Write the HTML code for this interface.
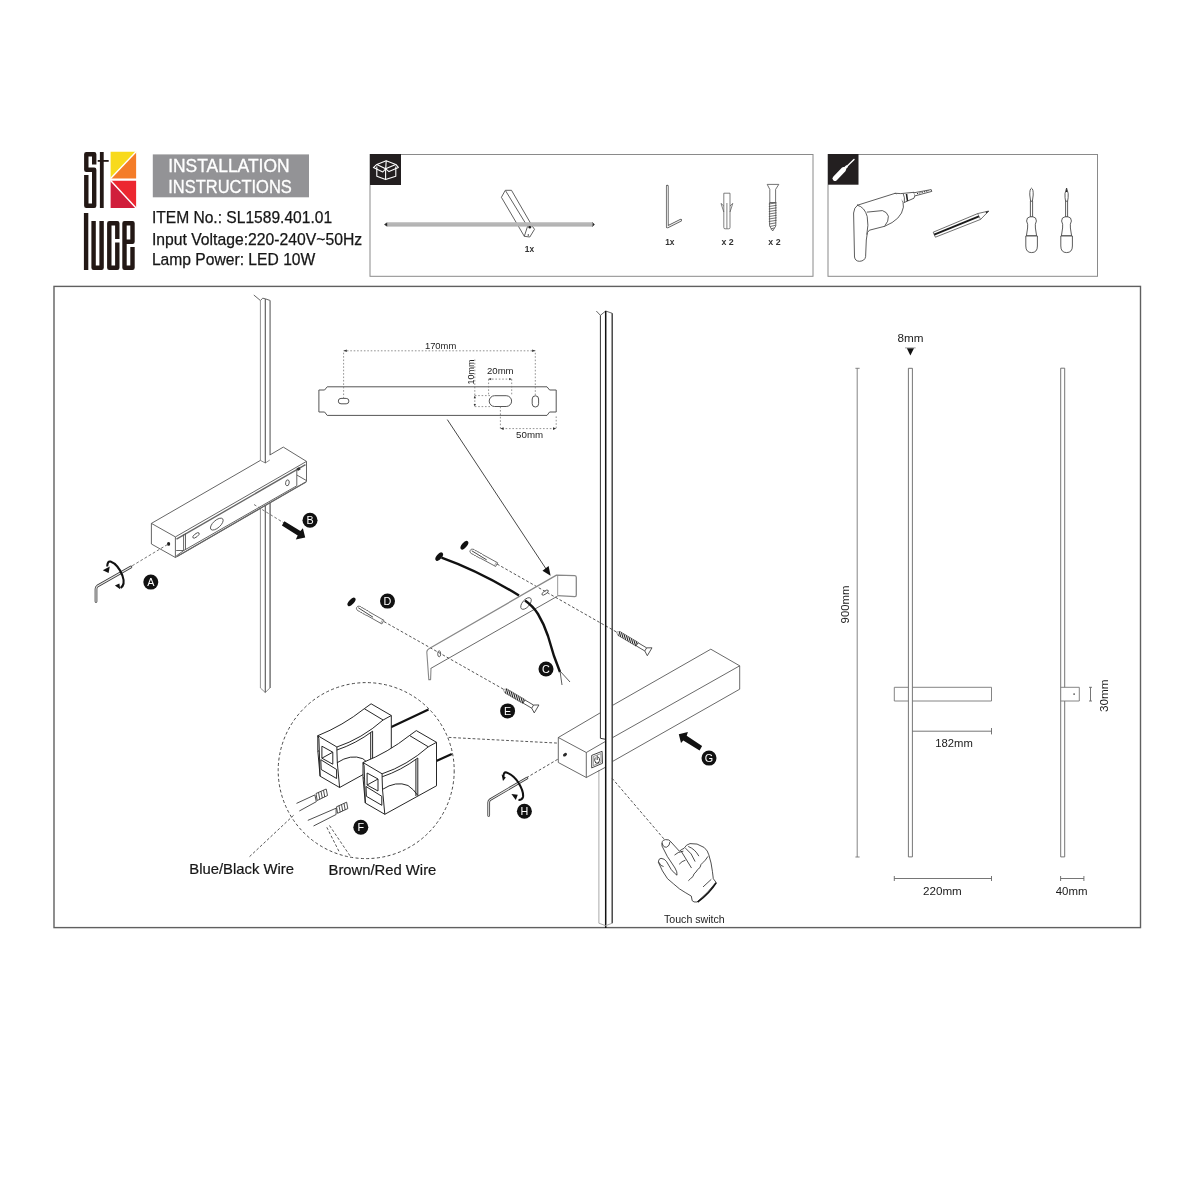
<!DOCTYPE html>
<html>
<head>
<meta charset="utf-8">
<style>
html,body{margin:0;padding:0;background:#fff;}
body{width:1200px;height:1200px;overflow:hidden;}
svg{display:block;will-change:transform;}
text{font-family:"Liberation Sans",sans-serif;}
</style>
</head>
<body>
<svg width="1200" height="1200" viewBox="0 0 1200 1200">
<rect width="1200" height="1200" fill="#fff"/>
<defs>
  <g id="screwS">
    <path d="M0,0 L3,-2.2 H24 V2.2 H3 Z" fill="#fff" stroke="#555" stroke-width="0.5"/>
    <path d="M2.6,-2.3 L3.9,2.3 M4.5,-2.3 L5.8,2.3 M6.5,-2.3 L7.8,2.3 M8.4,-2.3 L9.8,2.3 M10.4,-2.3 L11.7,2.3 M12.3,-2.3 L13.7,2.3 M14.3,-2.3 L15.6,2.3 M16.2,-2.3 L17.6,2.3 M18.2,-2.3 L19.5,2.3 M20.2,-2.3 L21.5,2.3 M22.1,-2.3 L23.4,2.3 " stroke="#1a1a1a" stroke-width="1" fill="none"/>
    <path d="M24,-1.8 H34 L38.6,-4.6 L38.6,4.6 L34,1.8 H24 Z M34,-1.8 V1.8" fill="#fff" stroke="#333" stroke-width="0.75" stroke-linejoin="round"/>
  </g>
  <g id="dowelS">
    <path d="M1.6,-2.1 Q3,-3 4.4,-2.1 Q5.8,-3 7.2,-2.1 Q8.6,-3 10,-2.1 Q11.4,-3 12.8,-2.1 H30 V2.1 H12.8 Q11.4,3 10,2.1 Q8.6,3 7.2,2.1 Q5.8,3 4.4,2.1 Q3,3 1.6,2.1 Q0,2 0,0 Q0,-2 1.6,-2.1 Z" fill="#fff" stroke="#444" stroke-width="0.7" stroke-linejoin="round"/>
    <path d="M1.5,-0.3 L19,0.6" stroke="#333" stroke-width="0.8" fill="none"/>
    <path d="M28.6,-2.1 V2.1" stroke="#666" stroke-width="0.5" fill="none"/>
  </g>
</defs>


<!-- ===== LOGO ===== -->
<g id="logo">
  <g fill="none" stroke="#231815" stroke-width="4.4" stroke-linejoin="round" stroke-linecap="butt">
    <path d="M94.2,164.5 V154.3 H86.3 V169.8 H94.2 V205.8 H86.3 V175"/>
    <path d="M86.1,213 V270"/>
    <path d="M93.6,221 V267.8 H101.6 V221"/>
    <path d="M117.3,239 V223.2 H109.3 V267.8 H117.3 V242.5"/>
    <path d="M132.5,247 V267.8 H124.5 V223.2 H132.5 V241.8 H126"/>
  </g>
  <rect x="99.9" y="152" width="3.8" height="56" fill="#231815"/>
  <rect x="97.7" y="160" width="11" height="1.8" fill="#231815"/>
  <polygon points="110.6,151.7 136.1,151.7 110.6,178.4" fill="#f8da1c"/>
  <polygon points="136.1,151.7 136.1,178.4 110.6,178.4" fill="#f47c28"/>
  <polygon points="110.6,180.8 136.1,180.8 136.1,208" fill="#ec2730"/>
  <polygon points="110.6,180.8 136.1,208 110.6,208" fill="#d01e3b"/>
  <line x1="110.6" y1="178.6" x2="136.3" y2="151.5" stroke="#fff" stroke-width="1.4"/>
  <line x1="110.6" y1="180.6" x2="136.3" y2="208.2" stroke="#fff" stroke-width="1.4"/>
</g>

<!-- ===== TITLE ===== -->
<rect x="152.8" y="154.4" width="156.2" height="42.9" fill="#939396"/>
<text x="168.2" y="172.3" font-size="19.2" fill="#fff" stroke="#fff" stroke-width="0.35" textLength="121.4" lengthAdjust="spacingAndGlyphs">INSTALLATION</text>
<text x="168.2" y="193.2" font-size="19.2" fill="#fff" stroke="#fff" stroke-width="0.35" textLength="123.6" lengthAdjust="spacingAndGlyphs">INSTRUCTIONS</text>

<g font-size="15.9" fill="#161616" stroke="#161616" stroke-width="0.25">
<text x="151.9" y="222.9" textLength="180.2" lengthAdjust="spacingAndGlyphs">ITEM No.: SL1589.401.01</text>
<text x="151.9" y="244.7" textLength="210.2" lengthAdjust="spacingAndGlyphs">Input Voltage:220-240V~50Hz</text>
<text x="151.9" y="264.8" textLength="163.4" lengthAdjust="spacingAndGlyphs">Lamp Power: LED 10W</text>
</g>

<!-- ===== HEADER BOXES ===== -->
<rect x="370" y="154.5" width="443" height="121.8" fill="none" stroke="#8a8a8a" stroke-width="1"/>
<rect x="828" y="154.5" width="269.5" height="121.8" fill="none" stroke="#8a8a8a" stroke-width="1"/>
<rect x="370" y="154" width="31" height="31" fill="#231f20"/>
<rect x="828" y="154" width="30.5" height="30.7" fill="#231f20"/>

<!-- box icon -->
<g fill="none" stroke="#fff" stroke-width="1.1" stroke-linejoin="round">
  <path d="M376.8,166.5 V176.3 L385.6,179.6 L395.8,176.3 V166.5"/>
  <path d="M385.6,168.8 V179.6"/>
  <path d="M376.8,164.4 L386.2,160.8 L395.8,164.4 L385.6,168.8 Z"/>
  <path d="M376.8,164.4 L373.4,167.6 L382.8,172 L385.6,168.8"/>
  <path d="M395.8,164.4 L398.4,167.4 L389,171.6 L385.6,168.8"/>
  <path d="M386.2,160.8 L385.7,168.6"/>
</g>
<!-- screwdriver icon -->
<g stroke="#fff" stroke-linecap="round" fill="none">
  <line x1="835" y1="178.4" x2="843.6" y2="169.6" stroke-width="5"/>
  <line x1="843" y1="170.2" x2="846.6" y2="166.6" stroke-width="2.6"/>
  <line x1="846" y1="167.2" x2="854" y2="159.6" stroke-width="1.4"/>
</g>

<!-- box1 contents -->
<g>
  <path d="M387.2,222.8 L384.6,224.5 L387.2,226.2 Z" fill="#2a2a2a" stroke="#2a2a2a" stroke-width="0.8" stroke-linejoin="round"/>
  <path d="M592.3,222.6 L594.4,224.5 L592.3,226.4 Z" fill="#2a2a2a" stroke="#2a2a2a" stroke-width="0.8" stroke-linejoin="round"/>
  <g fill="none" stroke="#444" stroke-width="0.85" stroke-linejoin="round">
    <path d="M501.4,197.3 L505.3,190.3 L511.5,190.3 L532.2,226 L534.5,229.3 L529.8,237 L524.3,236.3 Z"/>
    <path d="M505.6,190.8 L527.5,226.5 L532.2,226"/>
    <path d="M527.5,226.5 L524.3,236.3"/>
  </g>
  <rect x="387.5" y="222.3" width="205" height="4.3" fill="#b2b2b2"/>
  <line x1="387.5" y1="223.9" x2="592.5" y2="223.9" stroke="#bdbdbd" stroke-width="0.8"/>
  <circle cx="529.8" cy="227.2" r="1.3" fill="#222"/>
  <circle cx="528.3" cy="235" r="0.7" fill="#222"/>
  <text x="524.8" y="252.4" font-size="8.4" font-weight="bold" fill="#333">1x</text>
</g>
<!-- allen key -->
<g fill="none" stroke-linecap="round" stroke-linejoin="round">
  <path d="M667.3,186.2 V227 L680.7,220.2" stroke="#5a5a5a" stroke-width="2.7"/>
  <path d="M667.3,186.2 V227 L680.7,220.2" stroke="#f0f0f0" stroke-width="1.1"/>
</g>
<text x="665.2" y="244.6" font-size="8.4" font-weight="bold" fill="#333">1x</text>
<!-- anchor -->
<g fill="#fff" stroke="#555" stroke-width="0.75">
  <path d="M723.8,193.2 H730 V227.5 Q730,228.8 728.8,228.8 H725 Q723.8,228.8 723.8,227.5 Z"/>
  <path d="M723.8,206 L721,203.4 L723.8,212 M730,206 L732.8,203.4 L730,212" fill="none"/>
  <path d="M726.9,203 V228.5" fill="none"/>
</g>
<text x="721.4" y="245" font-size="8.8" font-weight="bold" fill="#333">x 2</text>
<!-- screw -->
<g fill="#fff" stroke="#444" stroke-width="0.75" stroke-linejoin="round">
  <path d="M767.2,184.4 H778.8 L775.6,189.4 V202.6 H769.8 V189.4 Z"/>
  <path d="M769.6,202.6 H775.8 V226 L772.7,231 L769.6,226 Z"/>
</g>
<g stroke="#444" stroke-width="0.75">
  <path d="M768.8,204 L776.6,202.8 M768.8,206.5 L776.6,205.3 M768.8,209 L776.6,207.8 M768.8,211.5 L776.6,210.3 M768.8,214 L776.6,212.8 M768.8,216.5 L776.6,215.3 M768.8,219 L776.6,217.8 M768.8,221.5 L776.6,220.3 M769.2,224 L776.2,222.8 M770,226.5 L775.6,225.3 M770.8,229 L774.6,227.8"/>
</g>
<text x="768.3" y="245" font-size="8.8" font-weight="bold" fill="#333">x 2</text>

<!-- box2 contents: drill -->
<g fill="#fff" stroke="#333" stroke-width="0.8" stroke-linejoin="round" stroke-linecap="round">
  <path d="M857.5,205.2 L895.2,193.3 Q903.8,196.5 903.4,207.2 Q901.5,219.5 884.6,226.3 L869.4,230.2 L867.4,232.6 L866.3,240 L865.6,256.7 Q864.8,261 859.6,261.3 Q855.2,261.3 854.5,257 L853.6,213 Q854,207.5 857.5,205.2 Z"/>
  <path d="M857.5,205.2 Q864.8,207.2 867.2,216.5 Q868.8,225 866.9,234.2"/>
  <path d="M867.3,212.1 L882.4,210.6 Q887,211.8 888.4,216.2 Q889,221 884.6,226.3"/>
  <path d="M895.2,193.3 L900.8,193.6 L914,192.3 Q916,195 914,198.2 L904.2,202.5"/>
  <path d="M903.4,194.1 Q905,197.5 904.4,202"/>
  <path d="M913.8,192.8 L931.2,189.6 L931.8,191.4 L915.3,195.8"/>
</g>
<path d="M906.5,194 L907.5,201" stroke="#222" stroke-width="1.6"/>
<path d="M917,193.7 L929,190.6" stroke="#222" stroke-width="1" stroke-dasharray="1.2 1.2"/>
<!-- pencil -->
<g stroke-linejoin="round">
  <path d="M933.2,232.2 L977.6,213.6 L988.8,211 L980.6,219.4 L935.4,237.2 Z" fill="#fff" stroke="#333" stroke-width="0.7"/>
  <path d="M934.2,234.6 L978.9,216.4" stroke="#1a1a1a" stroke-width="2"/>
  <path d="M977.6,213.6 L980.6,219.4" stroke="#333" stroke-width="0.6" fill="none"/>
  <path d="M985.5,211.8 L988.8,211 L986.5,213.6 Z" fill="#222"/>
</g>
<!-- screwdrivers -->
<g fill="#fff" stroke="#333" stroke-width="0.8" stroke-linejoin="round">
  <path d="M1030.4,201 V217 H1032.6 V201"/>
  <path d="M1031.5,188.2 Q1033.4,189 1033.2,195 L1032.4,201.2 H1030.6 L1029.8,195 Q1029.6,189 1031.5,188.2 Z"/>
  <path d="M1026.6,221 Q1026.6,217.2 1030,216.8 H1033 Q1036.4,217.2 1036.4,221 Q1034.8,224 1035.4,228 L1036.6,235.8 H1026.4 L1027.6,228 Q1028.2,224 1026.6,221 Z"/>
  <path d="M1025.8,236 H1037.4 V246 Q1037.4,252.6 1031.6,252.6 Q1025.8,252.6 1025.8,246 Z"/>
  <path d="M1065.6,201 V217 H1067.6 V201"/>
  <path d="M1066.6,188 L1068.2,193.5 Q1068.4,198 1067.6,201.2 H1065.6 Q1064.8,198 1065,193.5 Z"/>
  <path d="M1061.6,221 Q1061.6,217.2 1065,216.8 H1068 Q1071.4,217.2 1071.4,221 Q1069.8,224 1070.4,228 L1071.6,235.8 H1061.4 L1062.6,228 Q1063.2,224 1061.6,221 Z"/>
  <path d="M1060.8,236 H1072.4 V246 Q1072.4,252.6 1066.6,252.6 Q1060.8,252.6 1060.8,246 Z"/>
</g>
<path d="M1066.6,188 L1067.4,192 H1065.8 Z" fill="#222"/>

<!-- ===== MAIN BOX ===== -->
<rect x="54" y="286.4" width="1086.5" height="641.2" fill="none" stroke="#606060" stroke-width="1.4"/>

<!-- ===== LEFT SECTION: column + housing ===== -->
<g fill="none" stroke="#555" stroke-width="0.9" stroke-linejoin="round">
  <!-- column upper -->
  <path d="M253.8,295 L260.4,300.5 L262.7,298.2 L265.3,298.8 L270.2,300.5"/>
  <path d="M260.4,300.5 V460.4 L265.3,463 L269.8,460" stroke="#858585"/>
  <path d="M265.3,299 V463" stroke="#555" stroke-width="1.1"/>
  <path d="M270.1,300.5 V455" stroke="#8a8a8a" stroke-width="1.5"/>
  <!-- column lower -->
  <path d="M260.4,508 V688 L265.3,692.5 L269.8,688" stroke="#858585"/>
  <path d="M270.1,688 V503" stroke="#777" stroke-width="1.5"/>
  <path d="M265.3,505.5 V692.5" stroke="#555" stroke-width="1.1"/>
  <!-- housing -->
  <path d="M151.4,523.4 L260.4,460.4 M269.8,455 L283.3,447.1 L306.5,461.4 V481.6 L175.4,557.5 L151.4,544 V523.4 L175.4,536.9 L306.5,461.4"/>
  <path d="M175.4,536.9 V557.5"/>
  <path d="M176.5,539.2 L305.5,464.6" stroke="#666" stroke-width="1.4"/>
  <path d="M183.6,534.5 V550.6 L296.8,485.8 V469.6"/>
  <path d="M185.5,533.4 V549.5"/>
  <path d="M176.2,550.5 H183.6 M176.2,556 L183.6,550.6"/>
  <path d="M296.8,475 L306.5,480.6"/>
  <path d="M177,556.5 L306,481.9" stroke="#666" stroke-width="1.2"/>
  <ellipse cx="196" cy="535.4" rx="3.9" ry="1.6" transform="rotate(-38 196 535.4)"/>
  <ellipse cx="216.8" cy="524.1" rx="7.9" ry="3.7" transform="rotate(-42 216.8 524.1)"/>
  <ellipse cx="287.4" cy="482.8" rx="1.8" ry="3" transform="rotate(10 287.4 482.8)"/>
</g>
<ellipse cx="168.6" cy="543.9" rx="1.6" ry="1.9" fill="#222"/>
<rect x="297" y="467.5" width="3.2" height="2.8" fill="#333" transform="rotate(-30 298.6 468.9)"/>
<!-- dashed guides -->
<g fill="none" stroke="#666" stroke-width="0.9" stroke-dasharray="2.8 2">
  <path d="M167.5,544.5 L131,566.5"/>
  <path d="M254,504.5 L284,523"/>
</g>
<!-- B arrow -->
<path d="M284.4,521.3 L300.4,531 L302.9,528.3 L305.2,537.5 L295.8,539.6 L297.7,535.6 L281.9,525.4 Z" fill="#111"/>
<!-- allen key A -->
<g fill="none" stroke-linecap="round" stroke-linejoin="round">
  <path d="M130.9,567 L97.5,586 Q96,587 96,589 V601.5" stroke="#3a3a3a" stroke-width="2.7"/>
  <path d="M130.9,567 L97.5,586 Q96,587 96,589 V601.5" stroke="#e8e8e8" stroke-width="1.1"/>
</g>
<path d="M107.2,566.5 Q107.5,560.8 110.5,561.6 Q118,564.5 122.4,575.5 Q125.6,584.5 120.6,588" fill="none" stroke="#111" stroke-width="2.1"/>
<path d="M102.8,570.2 L109.8,566.6 L108.6,572.9 Z" fill="#111"/>
<path d="M114.9,585.6 L119.4,583.4 L120.2,589.2 Z" fill="#111"/>

<!-- ===== PLATE DIAGRAM ===== -->
<g fill="none" stroke="#555" stroke-width="1" stroke-linejoin="round">
  <path d="M327.2,386.8 H547 L549.6,390 H556.2 V412 H549.6 L547,415.4 H327.2 L324.6,412 H318.9 V390 H324.6 Z"/>
  <rect x="338.3" y="398.4" width="10.6" height="5.4" rx="2.7"/>
  <rect x="489.2" y="395.7" width="22.4" height="10.8" rx="5.4"/>
  <rect x="532.2" y="395.8" width="6.4" height="11.2" rx="3.2"/>
</g>
<g fill="none" stroke="#777" stroke-width="0.8" stroke-dasharray="1.6 1.8">
  <path d="M343.6,398.5 V350.8 H535.3 V395.6"/>
  <path d="M488.6,379.1 H511.7"/>
  <path d="M488.6,379.1 V396 M511.7,379.1 V396"/>
  <path d="M474.8,395.6 H490 M474.8,406.6 H490"/>
  <path d="M474.8,359.5 V406.6"/>
  <path d="M500.4,406.6 V428.6 H556.2 V415.4"/>
</g>
<g fill="#333">
  <path d="M343.6,350.8 l3.2,-1.3 v2.6 Z"/>
  <path d="M535.3,350.8 l-3.2,-1.3 v2.6 Z"/>
  <path d="M488.6,379.1 l2.6,-1.1 v2.2 Z"/>
  <path d="M511.7,379.1 l-2.6,-1.1 v2.2 Z"/>
  <path d="M474.8,395.6 l-1.1,2.6 h2.2 Z"/>
  <path d="M474.8,406.6 l-1.1,-2.6 h2.2 Z"/>
  <path d="M500.4,428.6 l3.2,-1.3 v2.6 Z"/>
  <path d="M556.2,428.6 l-3.2,-1.3 v2.6 Z"/>
</g>
<g font-size="9.2" fill="#222">
  <text x="424.9" y="348.6" textLength="31.4" lengthAdjust="spacingAndGlyphs">170mm</text>
  <text x="487" y="374.4" textLength="26.6" lengthAdjust="spacingAndGlyphs">20mm</text>
  <text x="516.1" y="437.9" textLength="27" lengthAdjust="spacingAndGlyphs">50mm</text>
  <text transform="translate(473.6,384.6) rotate(-90)" textLength="25" lengthAdjust="spacingAndGlyphs">10mm</text>
</g>
<!-- pointer line -->
<path d="M447.3,419.6 L546.5,569.6" stroke="#333" stroke-width="0.9" fill="none"/>
<path d="M550.6,575.7 L542.5,570.7 L548.6,566 Z" fill="#111"/>

<!-- ===== MIDDLE BRACKET ===== -->
<!-- dashed guides -->
<g fill="none" stroke="#444" stroke-width="0.9" stroke-dasharray="2.8 2">
  <path d="M497,564 L616.5,632"/>
  <path d="M384,621.6 L504,689.5"/>
</g>
<g fill="none" stroke-linejoin="round">
  <path d="M430.2,648 L556.5,575.1 L574.8,575.7 Q576.3,576 576.3,577.4 V595 Q576.3,596.7 574.8,596.7 L557.6,595.6" stroke="#888" stroke-width="1.3"/>
  <path d="M557.6,576 V595.6" stroke="#aaa" stroke-width="1.2"/>
  <path d="M430.8,668.4 L557.6,596.1" stroke="#444" stroke-width="0.8"/>
  <path d="M430.2,648 Q427,649.5 426.8,652 L428.8,679.6 H430.6 L431,668" stroke="#888" stroke-width="1.1"/>
  <ellipse cx="439.2" cy="653.8" rx="1.5" ry="3" stroke="#555" stroke-width="0.9"/>
  <ellipse cx="545.1" cy="592.6" rx="3.8" ry="1.5" transform="rotate(-35 545.1 592.6)" stroke="#555" stroke-width="0.9"/>
  <ellipse cx="526" cy="603.5" rx="7" ry="3.6" transform="rotate(-50 526 603.5)" stroke="#555" stroke-width="0.9"/>
</g>
<!-- wire -->
<path d="M441.5,557.6 Q479,571 519,595.5" stroke="#111" stroke-width="2.4" fill="none"/>
<path d="M525,600.5 Q533,606 538,614 Q544,624 548,636 L554,656 L560,672" stroke="#111" stroke-width="2.4" fill="none"/>
<path d="M560,671 L562,685 M560,671 L570,682" stroke="#333" stroke-width="0.8" fill="none"/>
<ellipse cx="439.2" cy="556.6" rx="5" ry="2.6" transform="rotate(-50 439.2 556.6)" fill="#111"/>
<ellipse cx="464.4" cy="545.2" rx="5.2" ry="2.5" transform="rotate(-50 464.4 545.2)" fill="#111"/>
<ellipse cx="351.5" cy="601.9" rx="5.2" ry="2.5" transform="rotate(-47 351.5 601.9)" fill="#111"/>
<!-- dowels -->
<use href="#dowelS" transform="translate(470.3,550.3) rotate(28.5)"/>
<use href="#dowelS" transform="translate(356.8,607.3) rotate(29.6)"/>
<!-- screws -->
<use href="#screwS" transform="translate(503.3,689.4) rotate(30.4)"/>
<use href="#screwS" transform="translate(616.5,632) rotate(30.8)"/>
<!-- ===== MIDDLE COLUMN + HOUSING G ===== -->
<g fill="none" stroke-linejoin="round">
  <path d="M596.3,311 L600.4,315.3 L605.7,311 L612.2,313.3" stroke="#555" stroke-width="0.9"/>
  <path d="M600.4,315.3 V738.3 L605,739.2" stroke="#333" stroke-width="1"/>
  <path d="M605.7,311 V928" stroke="#111" stroke-width="1.5"/>
  <path d="M612.2,313.3 V923.2" stroke="#3a3a3a" stroke-width="1.4"/>
  <path d="M598.9,770 V923.2 L605.7,925.7 L612.2,923.2" stroke="#aaa" stroke-width="1"/>
  <!-- housing G -->
  <path d="M558.3,737.5 L600.8,712.5 M612.5,705.4 L710.8,649.2 L739.7,665.8 V689.2 L612.1,761.7 M605,767.5 L586.3,777.5 L558.3,762.5 V737.5 L586.3,752.5 L605,741.7 M612.1,737.9 L739.7,665.8" stroke="#444" stroke-width="0.8"/>
  <path d="M586.3,752.5 V777.5" stroke="#444" stroke-width="0.8"/>
  <path d="M591.7,755.4 L602.1,751.3 L602.5,763.3 L591.7,767.9 Z" stroke="#333" stroke-width="0.9"/>
  <path d="M593.3,756.6 L600.8,753.6 L601.1,762.3 L593.3,765.6 Z" stroke="#555" stroke-width="0.6"/>
  <path d="M595.2,757.5 Q593.8,760.5 595.8,763 Q598.5,764.2 599.6,760.8 Q599.8,758 598.2,756.8 M597.2,755.5 V760" stroke="#222" stroke-width="0.9"/>
</g>
<ellipse cx="565" cy="754.7" rx="2.2" ry="1.5" transform="rotate(-35 565 754.7)" fill="#2a2a2a"/>
<!-- G arrow -->
<path d="M678.8,734.2 L687.9,732.1 L686.7,735.8 L702.1,746 L699.6,750.4 L683.3,740.4 L681,742.9 Z" fill="#111"/>
<!-- dashed: column -> hand -->
<path d="M612.1,778.3 L664,839" stroke="#444" stroke-width="0.9" stroke-dasharray="2.8 2" fill="none"/>
<!-- hand -->
<g fill="#fff" stroke="#222" stroke-width="0.8" stroke-linejoin="round" stroke-linecap="round">
  <path d="M662,845.7 Q661,840 665.5,839.6 Q669.5,839.5 670.2,841.1 L679.4,851.2 Q682,849 684,848.4 Q686,844.5 690,843.6 Q697,842.6 704.2,847.5 Q708,851 708.8,854.8 Q711.5,863 712.4,871.3 L713.3,878.7 L716,882.3 Q708,893 697,902 Q693.5,902.5 692.2,900.7 L691.3,896.1 Q685,892.5 679.4,888.8 Q673.9,884.2 667.5,878.7 Q662,871.3 658.3,862.2 Q658.5,858.5 661,858.3 Q664.5,858.6 666.5,861.5 L671.2,869.5 Q674.5,873.5 677,875.2 Q677.5,872 675,868 L667.5,856.7 Z"/>
  <path fill="none" d="M662.3,843.5 Q663,847.5 666.5,847.2 Q669.8,846 669.9,842.2"/>
  <path fill="none" d="M681.2,851.2 L691.3,867.7"/>
  <path fill="none" d="M674.8,854.8 Q677.5,852 683,851.2 M679.4,864 Q682,861 685,860.3"/>
  <path fill="none" d="M685.8,848.4 Q692,853 695,861.2 M688.6,846.6 Q695,849 698.7,855.8"/>
  <path fill="none" d="M707.8,856.7 Q705,861 703,862.5 Q700.5,864 700,867.5 Q697,869.5 696,872 Q693.5,873.5 693,876.5 Q690.5,878.5 688.6,880.5"/>
  <path fill="none" d="M703.3,886.7 L711,879.6 M659,862.5 Q660.5,866.5 663.2,866.5"/>
</g>
<path d="M716.3,882.6 Q709.6,893.2 697.6,902.2" fill="none" stroke="#111" stroke-width="1.6"/>
<text x="664" y="922.7" font-size="10.6" fill="#222" textLength="60.7" lengthAdjust="spacingAndGlyphs">Touch switch</text>

<!-- ===== RIGHT DIMENSIONS ===== -->
<g fill="none" stroke="#777" stroke-width="0.9">
  <!-- 900mm line -->
  <path d="M857.2,368.3 V857 M855.4,368.3 H859.6 M855.4,857 H859.6"/>
  <!-- front bar -->
  <path d="M908.4,368.3 H912.4 V856.9 H908.4 Z" stroke="#666"/>
  <!-- front horizontal bar -->
  <path d="M908.4,687.3 H894.3 V701 H908.4 M912.4,687.3 H991.5 V701 H912.4" stroke="#777"/>
  <!-- 182 dim -->
  <path d="M912.4,731.2 H991.5 M991.5,728 V734.4" stroke="#666"/>
  <!-- side bar -->
  <path d="M1060.7,368.2 H1064.7 V687.3 M1064.7,701 V856.9 H1060.7 V368.2" stroke="#666"/>
  <path d="M1060.7,687.3 H1079.3 V701 H1060.7" stroke="#777"/>
  <!-- 30 dim -->
  <path d="M1090.5,687.3 V701 M1089,687.3 H1092 M1089,701 H1092" stroke="#666"/>
  <!-- 220 dim -->
  <path d="M894.3,878.5 H991.5 M894.3,876 V881 M991.5,876 V881" stroke="#666"/>
  <!-- 40 dim -->
  <path d="M1060.6,878.5 H1083.9 M1060.6,876 V881 M1083.9,876 V881" stroke="#666"/>
</g>
<circle cx="1074.1" cy="694.1" r="0.9" fill="#555"/>
<path d="M906.8,348.3 H914 L910.4,355.4 Z" fill="#111"/>
<path d="M905,347.9 H915.6" stroke="#555" stroke-width="0.6"/>
<g font-size="11" fill="#1a1a1a">
  <text x="897.6" y="342.2" textLength="26" lengthAdjust="spacingAndGlyphs">8mm</text>
  <text x="935.2" y="746.8" textLength="37.6" lengthAdjust="spacingAndGlyphs">182mm</text>
  <text x="923" y="895.4" textLength="38.8" lengthAdjust="spacingAndGlyphs">220mm</text>
  <text x="1055.7" y="895.4" textLength="31.8" lengthAdjust="spacingAndGlyphs">40mm</text>
  <text transform="translate(849,623.4) rotate(-90)" textLength="37.7" lengthAdjust="spacingAndGlyphs">900mm</text>
  <text transform="translate(1108.2,712) rotate(-90)" textLength="32.6" lengthAdjust="spacingAndGlyphs">30mm</text>
</g>

<!-- ===== CONNECTOR CIRCLE ===== -->
<circle cx="366.2" cy="770.6" r="88" fill="none" stroke="#333" stroke-width="0.9" stroke-dasharray="3 2.4"/>
<g fill="none" stroke="#444" stroke-width="0.9" stroke-dasharray="2.8 2">
  <path d="M448.6,737.4 L557.7,743.1"/>
  <path d="M557.7,759.3 L526.5,777.7"/>
  <path d="M293.6,815.3 L248.3,857.8"/>
  <path d="M326.8,827.3 L339.5,852.4 M329.5,825.5 L350.8,857"/>
</g>
<!-- wires from connectors -->
<path d="M390.8,727.2 L428.5,709.4" stroke="#111" stroke-width="2.2"/>
<path d="M436.3,761 L451.8,753.9" stroke="#111" stroke-width="2.2"/>
<g id="conn1" transform="translate(317.8,735.7)">
  <g fill="#fff" stroke="#1a1a1a" stroke-width="0.95" stroke-linejoin="round">
    <path d="M0,0 Q25,-10 46.5,-27 L53.3,-31.9 L73.5,-20.2 V23.3 L21.8,51.8 L2.3,40.5 L0,15 Z"/>
    <path fill="none" d="M0,0 L19.1,11.3 Q44,3 65.3,-15.7 L73.5,-20.2 M46.5,-27 L65.3,-15.7"/>
    <path fill="none" d="M19.1,11.3 V14.3 Q38,8 54.8,-4.5"/>
    <path fill="none" d="M52.9,-3.2 V33.5 M54.8,-4.5 V33"/>
    <path fill="none" d="M19.1,14.3 L19.5,27 L21.8,51.8 M19.3,27 Q33,18 45,23 Q51,27 54.8,33"/>
    <path fill="none" d="M0,0 L1.1,3 L1.5,15 L0,15.5 M1.5,15 L2.3,40.5"/>
    <path fill="none" d="M4.1,10.5 L15,16.5 V28.5 L4.1,22.5 Z M3,24 L18.8,33.8 V42.8 L3.4,33.8 Z M4.1,22.5 L15,16.5"/>
  </g>
</g>
<g id="conn2" transform="translate(363,762.5)">
  <g fill="#fff" stroke="#1a1a1a" stroke-width="0.95" stroke-linejoin="round">
    <path d="M0,0 Q25,-10 46.5,-27 L53.3,-31.9 L73.5,-20.2 V23.3 L21.8,51.8 L2.3,40.5 L0,15 Z"/>
    <path fill="none" d="M0,0 L19.1,11.3 Q44,3 65.3,-15.7 L73.5,-20.2 M46.5,-27 L65.3,-15.7"/>
    <path fill="none" d="M19.1,11.3 V14.3 Q38,8 54.8,-4.5"/>
    <path fill="none" d="M52.9,-3.2 V33.5 M54.8,-4.5 V33"/>
    <path fill="none" d="M19.1,14.3 L19.5,27 L21.8,51.8 M19.3,27 Q33,18 45,23 Q51,27 54.8,33"/>
    <path fill="none" d="M0,0 L1.1,3 L1.5,15 L0,15.5 M1.5,15 L2.3,40.5"/>
    <path fill="none" d="M4.1,10.5 L15,16.5 V28.5 L4.1,22.5 Z M3,24 L18.8,33.8 V42.8 L3.4,33.8 Z M4.1,22.5 L15,16.5"/>
  </g>
</g>
<!-- wire stubs -->
<g fill="none" stroke="#222" stroke-width="0.8">
  <path d="M296.5,803.4 L314.9,794.9 M299.3,811 L316.3,801.7 M314.9,794.9 L316.3,801.7"/>
  <path d="M307.8,820.4 L336.1,808.2 M313.5,826 L336.1,814.5 M336.1,808.2 V814.5"/>
  <path d="M316,793.5 L326.2,789 L327.5,795.5 L317.2,800.5 Z M318.5,792.5 L319.8,799.2 M321,791.4 L322.3,798 M323.5,790.3 L324.8,797"/>
  <path d="M336.5,806.8 L346.6,802.2 L347.8,808.6 L337.6,813.3 Z M339,805.7 L340.2,812.2 M341.5,804.6 L342.7,811 M344,803.4 L345.2,810"/>
</g>
<text x="189.3" y="874.3" font-size="14.8" fill="#161616" stroke="#161616" stroke-width="0.2" textLength="104.6" lengthAdjust="spacingAndGlyphs">Blue/Black Wire</text>
<text x="328.5" y="874.7" font-size="14.8" fill="#161616" stroke="#161616" stroke-width="0.2" textLength="107.8" lengthAdjust="spacingAndGlyphs">Brown/Red Wire</text>
<!-- allen key H -->
<g fill="none" stroke-linecap="round" stroke-linejoin="round">
  <path d="M526.9,778.1 L490.2,799.6 Q488.7,800.5 488.7,802.5 V815.4" stroke="#3a3a3a" stroke-width="2.7"/>
  <path d="M526.9,778.1 L490.2,799.6 Q488.7,800.5 488.7,802.5 V815.4" stroke="#e8e8e8" stroke-width="1.1"/>
</g>
<path d="M503.4,776.5 Q503.5,771.6 506.5,772.6 Q513.5,775 518.8,783.2 Q523.8,791.5 523,797 Q522,800.2 518.5,800" fill="none" stroke="#111" stroke-width="2.1"/>
<path d="M501.6,774.6 L505.8,777.4 L503,781 Z" fill="#111"/>
<path d="M511.4,794 L517.8,794.8 L515.8,800 Z" fill="#111"/>

<!-- ===== STEP LABELS ===== -->
<g fill="#111">
  <circle cx="150.8" cy="582.1" r="7.5"/>
  <circle cx="310" cy="520.2" r="7.5"/>
  <circle cx="546" cy="669" r="7.5"/>
  <circle cx="387.5" cy="601.1" r="7.5"/>
  <circle cx="507.6" cy="710.9" r="7.5"/>
  <circle cx="360.8" cy="827.3" r="7.5"/>
  <circle cx="709" cy="758.1" r="7.5"/>
  <circle cx="524.4" cy="811.3" r="7.5"/>
</g>
<g font-size="10.8" fill="#fff" text-anchor="middle">
  <text x="150.8" y="585.7">A</text>
  <text x="310" y="523.8">B</text>
  <text x="546" y="672.6">C</text>
  <text x="387.5" y="604.7">D</text>
  <text x="507.6" y="714.5">E</text>
  <text x="360.8" y="830.9">F</text>
  <text x="709" y="761.7">G</text>
  <text x="524.4" y="814.9">H</text>
</g>
</svg>
</body>
</html>
